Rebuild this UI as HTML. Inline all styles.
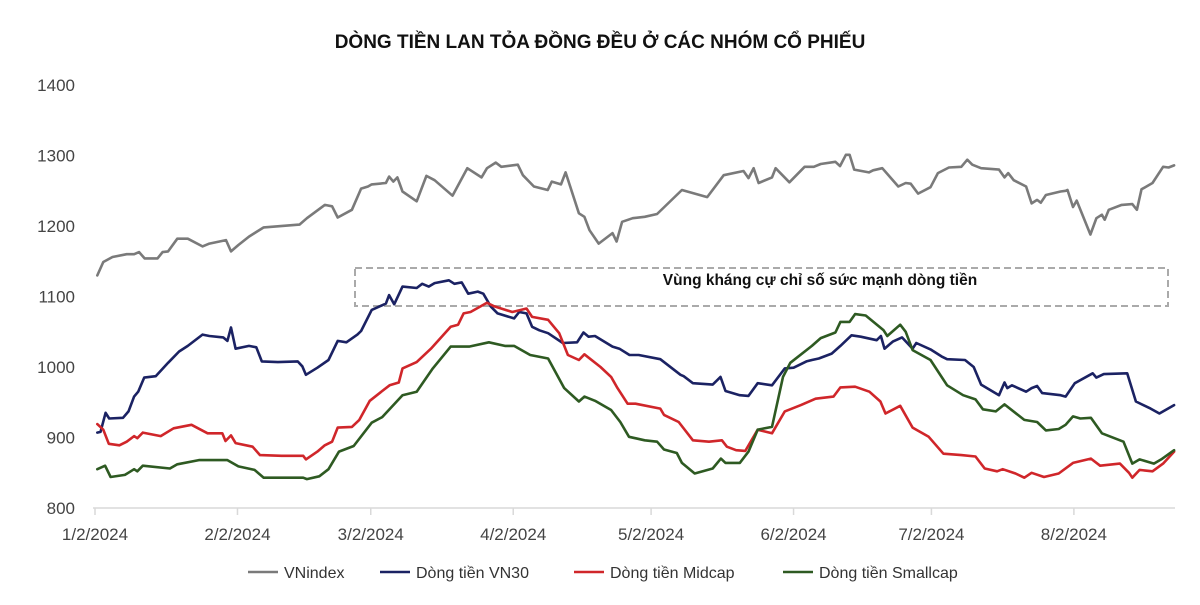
<!DOCTYPE html>
<html><head><meta charset="utf-8">
<style>
html,body{margin:0;padding:0;background:#fff;}
svg{display:block;font-family:"Liberation Sans","Noto Sans CJK SC",sans-serif;}
</style></head>
<body>
<svg id="chart" width="1200" height="605" viewBox="0 0 1200 605" xmlns="http://www.w3.org/2000/svg">
<text x="600" y="48" text-anchor="middle" font-size="19" font-weight="bold" fill="#111">DÒNG TIỀN LAN TỎA ĐỒNG ĐỀU Ở CÁC NHÓM CỔ PHIẾU</text>
<g id="yaxis"></g>
<g id="xaxis"></g>
<rect x="355" y="268" width="813" height="38" fill="none" stroke="#aaa" stroke-width="2" stroke-dasharray="7,4"/>
<text x="820" y="285" text-anchor="middle" font-size="15.5" font-weight="bold" fill="#111">Vùng kháng cự chỉ số sức mạnh dòng tiền</text>
<g id="series"></g>
<g id="legend"></g>
</svg>
<script>
const yTicks = [800, 900, 1000, 1100, 1200, 1300, 1400];
const xTickDays = [0, 31, 60, 91, 121, 152, 182, 213];
const xTickLabels = ["1/2/2024","2/2/2024","3/2/2024","4/2/2024","5/2/2024","6/2/2024","7/2/2024","8/2/2024"];
const seriesNames = ["VNindex","Dòng tiền VN30","Dòng tiền Midcap","Dòng tiền Smallcap"];
const vnindexDays = [0.5,1.8,3.8,6.9,8.5,9.6,10.8,13.6,14.7,15.9,17.9,20.2,23.4,24.9,28.5,29.6,31.2,33.5,36.7,44.5,46.1,50,51.6,52.8,55.9,57.9,59.4,60.2,63.3,64,64.9,65.8,66.9,70,72.1,73.9,77.8,81,84.1,85.3,87.2,88.4,92,93.1,95.5,98.5,99.4,101.4,102.4,105.3,106.5,107.6,109.6,112.6,113.5,114.7,117,119.6,122.3,127.7,133.2,136.8,141.1,142.2,143.3,144.4,147.3,148.1,151.1,154.4,156.4,157.9,161.1,162.1,163.4,164.2,165.2,168.4,169.3,171.3,174.8,176.4,177.5,179.1,181.8,183.4,185.8,188.5,189.8,190.9,192.8,196.7,197.9,198.7,199.9,202.6,203.8,205,205.8,206.9,210.1,211.2,211.6,212.8,213.6,216.6,217.9,219.1,219.7,220.6,223.4,225.7,226.7,227.7,230.1,232.4,233.6,234.8];
const vnindexValues = [1130,1149,1156,1160,1160,1163,1154,1154,1163,1164,1182,1182,1171,1175,1180,1164,1173,1185,1198,1202,1211,1230,1228,1212,1223,1253,1256,1259,1261,1270,1263,1269,1249,1235,1271,1265,1243,1282,1269,1282,1290,1284,1287,1272,1256,1251,1263,1259,1276,1218,1213,1194,1175,1190,1178,1206,1211,1213,1217,1251,1241,1272,1278,1268,1282,1261,1269,1282,1262,1284,1284,1288,1291,1285,1301,1301,1280,1276,1279,1282,1256,1261,1260,1246,1255,1275,1283,1284,1294,1287,1282,1280,1269,1275,1265,1256,1232,1237,1233,1244,1249,1250,1251,1227,1236,1188,1211,1216,1209,1223,1230,1231,1223,1252,1261,1284,1283,1286];
const vn30Days = [0.5,1.2,2.3,3.1,6.1,7.3,8.5,9.4,10.7,13.2,15.9,18.3,20.2,23.4,24.9,27.9,28.8,29.6,30.6,33.5,35.1,36.3,39.8,44.1,45.1,45.9,48.4,50.8,52.8,54.7,57.1,57.9,60.2,63.3,64,65.1,66.9,70,71.2,72.6,73.9,77,78.2,79.8,81.2,83.3,84.5,86.1,87.6,91.2,92.3,93.9,95.1,96.7,98.6,101.8,104.9,106.3,107.4,108.8,112.6,114.1,116.3,118.3,123,127.4,128.1,130.1,134.4,136.1,137.2,140.3,142.2,144.2,147.3,150.1,152,154.8,156,157.5,160.3,162.2,164.6,166.6,170.1,171,171.8,173.6,175.6,177.9,178.7,181.8,184.2,185.4,189.3,191.2,192.8,196.7,197.9,198.5,199.5,202.6,203.8,205,206.1,210.1,211.2,213.2,217.1,217.9,219.5,224.6,226.5,229.7,231.6,234.8];
const vn30Values = [907,908,935,927,928,937,958,965,985,987,1006,1022,1030,1046,1044,1042,1037,1056,1026,1030,1028,1008,1007,1008,1001,989,999,1010,1037,1035,1046,1051,1081,1090,1102,1089,1114,1112,1118,1114,1119,1123,1118,1120,1104,1107,1104,1086,1076,1069,1078,1076,1057,1052,1048,1034,1035,1049,1043,1044,1029,1026,1017,1017,1011,989,987,977,975,986,966,960,959,977,974,998,999,1008,1010,1012,1019,1030,1045,1043,1038,1044,1026,1036,1042,1026,1034,1025,1015,1011,1010,1000,975,960,978,970,974,965,970,973,963,960,958,977,991,985,990,991,951,941,934,946];
const midcapDays = [0.5,1.8,3,5.3,6.9,8.5,9.2,10.4,14.3,17.1,21,24.5,27.7,28.4,29.6,30.6,34.3,35.9,40.6,45.3,45.9,48.4,50,51.6,52.8,55.9,57.5,59.8,62.5,64.1,66.1,66.9,70,73.1,77.4,79,80.2,81.7,85.3,86.9,90.8,92.7,93.9,95.1,98.6,101,102.9,105.3,106.5,110,112.3,113.7,115.9,117.6,123,123.8,127,130.1,133.6,136.4,137.5,139.5,141.5,144.2,147.3,150.1,153.6,156.8,160.7,162.2,165.4,168.5,170.9,172,175.2,177.9,181.4,184.6,188.5,191.6,193.6,196.3,197.5,200.3,202.2,203.8,206.5,209.7,212.8,216.7,218.7,223,225,225.7,227.3,230.1,232.4,234.8];
const midcapValues = [919,911,891,889,894,902,899,907,902,913,918,906,906,895,903,892,887,875,874,874,869,880,889,894,914,915,925,952,966,974,978,998,1007,1026,1057,1060,1076,1078,1091,1086,1078,1081,1083,1071,1067,1048,1017,1010,1018,1000,986,970,948,948,941,932,922,896,894,896,887,882,881,911,906,937,946,955,958,971,972,965,951,934,945,914,901,877,875,873,856,852,855,849,843,850,844,849,864,870,860,863,850,843,854,852,863,880];
const smallcapDays = [0.5,2.2,3.4,6.5,8.5,9.2,10.4,16.3,17.9,22.6,28.8,31.2,34.7,36.7,45.3,46.1,48.8,50.8,53.1,56.3,60.2,62.5,66.9,70,73.5,77.4,81.4,85.7,89.2,91.2,94.7,98.6,102.1,105.3,106.5,108.8,112.3,114.3,116.2,119.6,122.3,123.8,126.6,127.7,130.5,134.4,136.2,137.2,140.3,142.2,144.2,147.3,149.7,151.3,156,157.9,161.1,162.2,164.2,165.4,167.7,171.6,172.4,175.2,176.4,177.9,181.8,185.4,188.9,191.6,193.2,196,197.9,202.2,205,206.9,209.7,211.2,212.8,214.4,216.7,219.1,223.8,225.7,227.3,230.4,232,234.8];
const smallcapValues = [855,860,844,847,855,852,860,856,862,868,868,859,854,843,843,841,845,855,880,888,921,929,960,965,998,1029,1029,1035,1030,1030,1017,1012,970,951,958,952,939,922,901,896,894,883,878,864,849,856,870,864,864,880,911,915,986,1006,1030,1041,1049,1064,1064,1075,1073,1052,1044,1060,1050,1024,1010,974,960,954,940,937,947,925,922,910,912,918,930,927,928,906,894,863,869,863,869,882];

const NS = "http://www.w3.org/2000/svg";
const X0 = 95, X1 = 1175, DMAX = 235;
const Y0 = 508, Y1 = 85, VMIN = 800, VMAX = 1400;
function xScale(d){ return X0 + (d / DMAX) * (X1 - X0); }
function yScale(v){ return Y0 - (v - VMIN) / (VMAX - VMIN) * (Y0 - Y1); }
function mk(tag, attrs){ const e = document.createElementNS(NS, tag); for (const k in attrs) e.setAttribute(k, attrs[k]); return e; }

const yg = document.getElementById('yaxis');
yTicks.forEach(v => {
  const t = mk('text', {x: 75, y: yScale(v) + 6, 'text-anchor': 'end', 'font-size': 17, fill: '#444'});
  
  
  t.textContent = v;
  yg.appendChild(t);
});

const xg = document.getElementById('xaxis');
const axisLine = mk('line', {x1: X0 - 2, y1: Y0, x2: X1, y2: Y0, stroke: '#d9d9d9', 'stroke-width': 1.5});


xg.appendChild(axisLine);
xTickDays.forEach((d, i) => {
  const tk = mk('line', {x1: xScale(d), y1: Y0, x2: xScale(d), y2: Y0 + 7, stroke: '#d9d9d9', 'stroke-width': 1.5});
  
  
  xg.appendChild(tk);
  const t = mk('text', {x: xScale(d), y: 540, 'text-anchor': 'middle', 'font-size': 17, fill: '#444'});
  
  
  t.textContent = xTickLabels[i];
  xg.appendChild(t);
});

const colors = ['#7a7a7a', '#1b2263', '#d0262a', '#2e5a22'];
const seriesData = [[vnindexDays, vnindexValues], [vn30Days, vn30Values], [midcapDays, midcapValues], [smallcapDays, smallcapValues]];
const seriesKeys = ['vnindex-line', 'vn30-line', 'midcap-line', 'smallcap-line'];
const sg = document.getElementById('series');
seriesData.forEach((s, i) => {
  const [ds, vs] = s;
  const pts = ds.map((d, j) => xScale(d).toFixed(1) + ',' + yScale(vs[j]).toFixed(1)).join(' ');
  const p = mk('polyline', {points: pts, fill: 'none', stroke: colors[i], 'stroke-width': 2.6, 'stroke-linejoin': 'round', 'stroke-linecap': 'round'});
  
  
  sg.appendChild(p);
});

const lg = document.getElementById('legend');
const legendX = [248, 380, 574, 783];
seriesNames.forEach((n, i) => {
  const g = mk('g', {});
  
  
  g.appendChild(mk('line', {x1: legendX[i], y1: 572, x2: legendX[i] + 30, y2: 572, stroke: colors[i], 'stroke-width': 2.6}));
  const t = mk('text', {x: legendX[i] + 36, y: 578, 'font-size': 16, fill: '#333'});
  t.textContent = n;
  g.appendChild(t);
  lg.appendChild(g);
});
</script>
</body></html>
